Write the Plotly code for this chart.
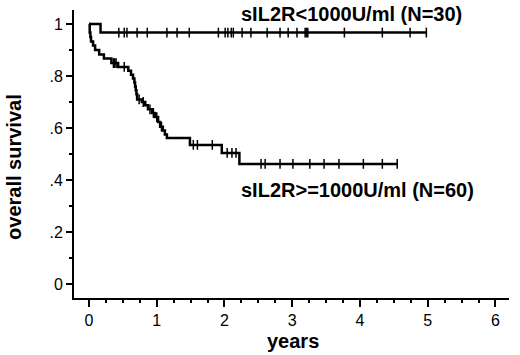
import numpy as np
import plotly.graph_objects as go

# ---- data ----
low_group_times = [0.0, 0.17, 4.98]
low_group_surv = [1.0, 0.967, 0.967]
low_group_censor = [0.44, 0.52, 0.56, 0.71, 0.86, 1.15, 1.30, 1.48, 1.91, 2.01, 2.05,
                    2.10, 2.13, 2.26, 2.39, 2.63, 2.82, 2.94, 3.07, 3.19, 3.21, 3.23,
                    3.77, 4.33, 4.74, 4.98]

high_group_times = [0.0, 0.01, 0.02, 0.03, 0.06, 0.09, 0.15, 0.22, 0.33, 0.43, 0.58,
                    0.62, 0.65, 0.67, 0.68, 0.69, 0.70, 0.71, 0.78, 0.83, 0.87, 0.93,
                    0.97, 1.02, 1.05, 1.09, 1.12, 1.15, 1.49, 1.96, 2.22, 4.55]
high_group_surv = [1.0, 0.967, 0.95, 0.933, 0.917, 0.90, 0.883, 0.867, 0.85, 0.835, 0.82,
                   0.805, 0.79, 0.775, 0.76, 0.745, 0.73, 0.71, 0.70, 0.688, 0.672, 0.658,
                   0.642, 0.623, 0.605, 0.59, 0.575, 0.562, 0.535, 0.504, 0.462, 0.462]
high_group_censor = [0.36, 0.38, 0.40, 0.52, 0.74, 0.80, 0.90, 0.95, 1.00, 1.07, 1.54,
                     1.60, 1.82, 2.04, 2.11, 2.17, 2.54, 2.60, 2.82, 3.01, 3.26, 3.47,
                     3.69, 4.05, 4.33, 4.55]

x_tick_vals = [0, 1, 2, 3, 4, 5, 6]
y_tick_vals = [0, 0.2, 0.4, 0.6, 0.8, 1.0]
y_tick_text = ["0", ".2", ".4", ".6", ".8", "1"]

label_low = "sIL2R<1000U/ml (N=30)"
label_high = "sIL2R>=1000U/ml (N=60)"
p_text = "P=0.0002"


def surv_at(times, surv, t):
    idx = np.searchsorted(np.array(times), np.array(t), side="right") - 1
    return [surv[i] for i in idx]


FONT = "Liberation Sans, Arial, sans-serif"
fig = go.Figure()

for times, surv, cens in [(low_group_times, low_group_surv, low_group_censor),
                          (high_group_times, high_group_surv, high_group_censor)]:
    fig.add_trace(go.Scatter(x=times, y=surv, mode="lines", line_shape="hv",
                             line=dict(color="black", width=2.5), showlegend=False,
                             hoverinfo="skip"))
    fig.add_trace(go.Scatter(x=cens, y=surv_at(times, surv, cens), mode="markers",
                             marker=dict(symbol="line-ns", size=7,
                                         line=dict(color="black", width=1.5)),
                             showlegend=False, hoverinfo="skip"))

fig.update_layout(
    width=520, height=355,
    margin=dict(l=74, r=11, t=10, b=57),
    paper_bgcolor="white", plot_bgcolor="white",
    font=dict(family=FONT, color="black"),
    xaxis=dict(range=[-0.2216, 6.2], tickvals=x_tick_vals, showgrid=False, zeroline=False,
               showline=True, linecolor="black", linewidth=2,
               ticks="outside", ticklen=7, tickwidth=1.5, tickcolor="black",
               tickfont=dict(size=16, family=FONT), automargin=False,
               minor=dict(dtick=0.25, tick0=0, ticks="outside", ticklen=3,
                          tickwidth=1.5, tickcolor="black", showgrid=False)),
    yaxis=dict(range=[-0.054, 1.054], tickvals=y_tick_vals, ticktext=y_tick_text,
               showgrid=False, zeroline=False,
               showline=True, linecolor="black", linewidth=2,
               ticks="outside", ticklen=6, tickwidth=1.5, tickcolor="black",
               tickfont=dict(size=16, family=FONT), automargin=False,
               minor=dict(dtick=0.1, tick0=0, ticks="outside", ticklen=3,
                          tickwidth=1.5, tickcolor="black", showgrid=False)),
)

bold = dict(family="Liberation Sans, Arial, sans-serif", size=20, color="black")
fig.add_annotation(x=2.21, y=1.038, xref="x", yref="y", text="<b>%s</b>" % label_low,
                   showarrow=False, xanchor="left", yanchor="middle", font=bold)
fig.add_annotation(x=2.21, y=0.362, xref="x", yref="y", text="<b>%s</b>" % label_high,
                   showarrow=False, xanchor="left", yanchor="middle", font=bold)
fig.add_annotation(x=6.25, y=0.065, xref="x", yref="y", text="<b>%s</b>" % p_text,
                   showarrow=False, xanchor="right", yanchor="middle", font=bold)
fig.add_annotation(x=-0.138, y=0.455, xref="paper", yref="paper",
                   text="<b>overall survival</b>", textangle=-90,
                   showarrow=False, xanchor="center", yanchor="middle", font=bold)
fig.add_annotation(x=3.01, y=-0.149, xref="x", yref="paper", text="<b>years</b>",
                   showarrow=False, xanchor="center", yanchor="middle", font=bold)

fig.write_html("out.html", config={"displayModeBar": False},
               post_script="document.body.style.margin='0';")
